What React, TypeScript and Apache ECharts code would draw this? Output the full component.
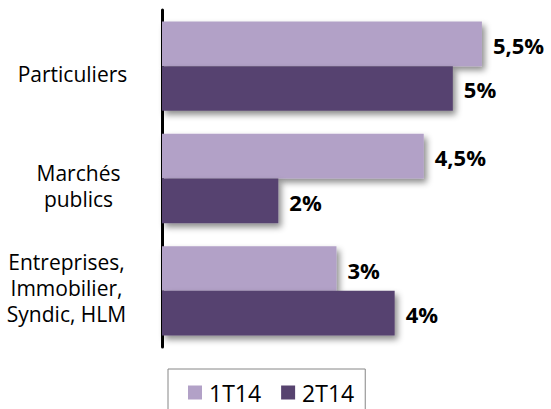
import React, { useEffect, useRef } from "react";
import * as echarts from "echarts";

const categories = ["Particuliers", "Marchés\npublics", "Entreprises,\nImmobilier,\nSyndic, HLM"];
const seriesNames = ["1T14", "2T14"];
const values1T14 = [5.5, 4.5, 3];
const values2T14 = [5, 2, 4];

const FONT = "'Open Sans', 'Noto Sans', sans-serif";

export default function App() {
  const ref = useRef<HTMLDivElement>(null);
  useEffect(() => {
    document.body.style.margin = "0";
    const chart = echarts.init(ref.current!, null, { renderer: "svg" });
    const fmt = (p: any) => `${String(p.value).replace(".", ",")}%`;
    const shadow = {
      shadowColor: "rgba(0,0,0,0.45)",
      shadowBlur: 6,
      shadowOffsetX: 3,
      shadowOffsetY: 4,
    };
    const base = { fontFamily: FONT, fontSize: 21, lineHeight: 26, color: "#000" };
    const rich: any = {
      a: { ...base },
      b: { ...base, padding: [0, 0, 0, 12] },
      c: { ...base, padding: [0, 12, 0, 0] },
      s16: { fontSize: 1, lineHeight: 16, color: "rgba(0,0,0,0)" },
      s14: { fontSize: 1, lineHeight: 14, color: "rgba(0,0,0,0)" },
      s6: { fontSize: 1, lineHeight: 6, color: "rgba(0,0,0,0)" },
    };
    const keys = ["a", "b", "c"];
    const before = ["{s16| }\n", "{s14| }\n", ""];
    const after = ["", "", "\n{s6| }"];
    const labelFmt = (value: string, index: number) =>
      before[index] +
      value
        .split("\n")
        .map((line) => `{${keys[index]}|${line}}`)
        .join("\n") +
      after[index];
    const dataLabel = {
      show: true,
      position: "right",
      distance: 11,
      formatter: fmt,
      fontFamily: FONT,
      fontWeight: "bold",
      fontSize: 22,
      color: "#000",
      offset: [0, 1],
    };
    chart.setOption({
      animation: false,
      backgroundColor: "#ffffff",
      grid: { left: 162, right: 40, top: 10, bottom: 62, containLabel: false, outerBoundsMode: "none" },
      xAxis: {
        type: "value",
        min: 0,
        max: 6,
        show: false,
      },
      yAxis: {
        type: "category",
        inverse: true,
        offset: 1.5,
        data: categories,
        axisLine: { show: true, lineStyle: { color: "#000", width: 3 } },
        axisTick: { show: false },
        axisLabel: {
          ...base,
          align: "center",
          margin: 88,
          formatter: labelFmt,
          rich,
        },
      },
      legend: {
        left: 168,
        top: 369,
        icon: "rect",
        itemWidth: 14,
        itemHeight: 14,
        itemGap: 20,
        padding: [12, 11, 20, 20],
        borderColor: "#868686",
        borderWidth: 1,
        textStyle: { fontFamily: FONT, fontSize: 23, color: "#000", padding: [0, 0, 0, 2] },
        data: seriesNames,
      },
      series: [
        {
          name: seriesNames[0],
          type: "bar",
          data: values1T14,
          barGap: "0%",
          barCategoryGap: "20.5%",
          itemStyle: { color: "#B2A1C7", ...shadow },
          label: dataLabel,
        },
        {
          name: seriesNames[1],
          type: "bar",
          data: values2T14,
          barGap: "0%",
          barCategoryGap: "20.5%",
          itemStyle: { color: "#57436F", ...shadow },
          label: dataLabel,
        },
      ],
    });
    return () => chart.dispose();
  }, []);
  return <div ref={ref} style={{ width: 551, height: 409 }} />;
}
